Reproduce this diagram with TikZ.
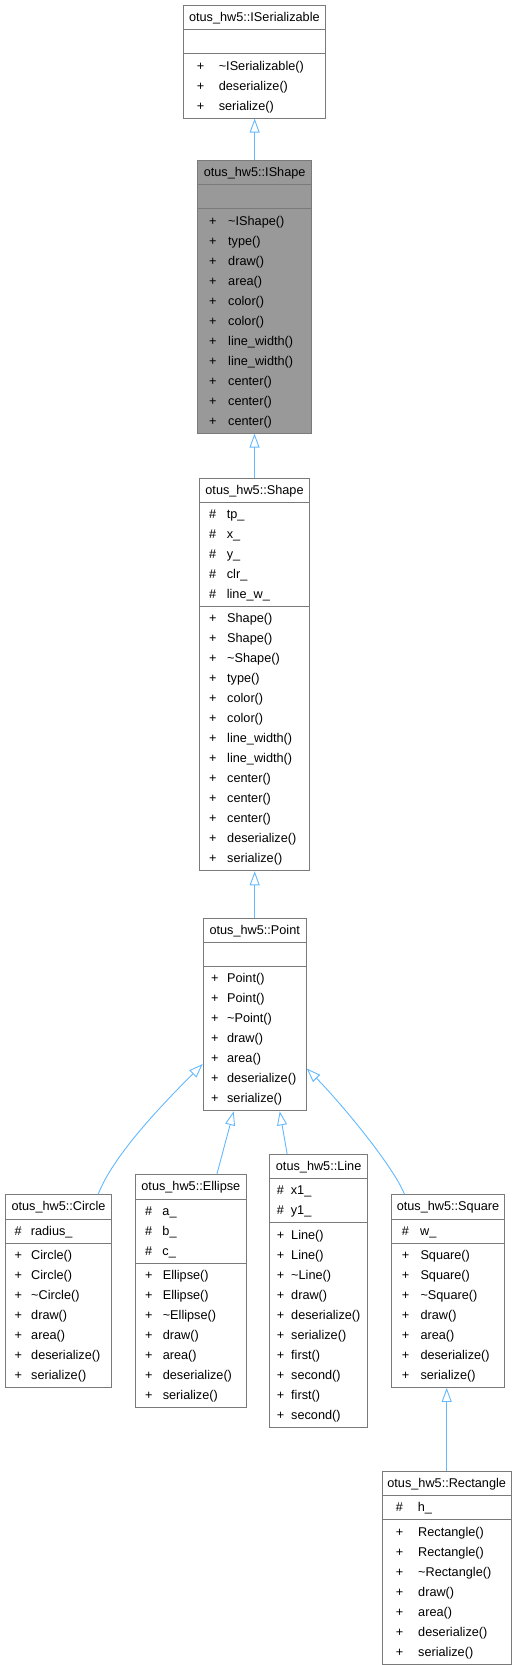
\documentclass[tikz,border=0pt]{standalone}
\usepackage{fontspec}
\setmainfont{Liberation Sans}
\usetikzlibrary{shapes.multipart,arrows.meta}
\definecolor{boxDraw}{HTML}{7A7A7A}
\definecolor{focusFill}{HTML}{999999}
\definecolor{edgeCol}{HTML}{63B8FF}
\newlength\cgap
\newlength\cind
\newcommand{\mrows}[1]{\begin{tabular}{@{\hspace{\cind}}c@{\hspace{\cgap}}l@{}}#1\end{tabular}}
\newcommand{\tl}{\textasciitilde}

\begin{document}
\begin{tikzpicture}[
  x=1pt, y=-1pt,
  font=\fontsize{12.7}{20}\selectfont,
  clsbox/.style 2 args={rectangle split, rectangle split parts=3,
               rectangle split part align={center,left,left},
               draw=boxDraw, line width=1pt, fill=white, anchor=north west,
               inner xsep=4pt, inner ysep=1.6pt,
               /utils/exec={\setlength\cind{#1}\addtolength\cind{-4pt}\setlength\cgap{#2}}},
  focusbox/.style 2 args={clsbox={#1}{#2}, fill=focusFill},
  inherit/.style={draw=edgeCol, line width=0.9pt,
               -{Triangle[open, length=14pt, width=10pt]}},
]
\useasboundingbox (0,0) rectangle (518,1665);

% ---- Interfaces ----
\node[clsbox={13.6pt}{14.6pt}, minimum width=142.3pt] (iser) at (182.7,5)
  {otus\_hw5::ISerializable\strut
   \nodepart{two}\strut
   \nodepart{three}\mrows{+ & \tl ISerializable()\\ + & deserialize()\\ + & serialize()}};

\node[focusbox={11.3pt}{11.7pt}, minimum width=113.7pt] (ishape) at (197.3,160)
  {otus\_hw5::IShape\strut
   \nodepart{two}\strut
   \nodepart{three}\mrows{+ & \tl IShape()\\ + & type()\\ + & draw()\\ + & area()\\
     + & color()\\ + & color()\\ + & line\_width()\\ + & line\_width()\\
     + & center()\\ + & center()\\ + & center()}};

% ---- Base classes ----
\node[clsbox={9.6pt}{10.7pt}, minimum width=110pt] (shape) at (199,477.7)
  {otus\_hw5::Shape\strut
   \nodepart{two}\mrows{\# & tp\_\\ \# & x\_\\ \# & y\_\\ \# & clr\_\\ \# & line\_w\_}
   \nodepart{three}\mrows{+ & Shape()\\ + & Shape()\\ + & \tl Shape()\\ + & type()\\
     + & color()\\ + & color()\\ + & line\_width()\\ + & line\_width()\\
     + & center()\\ + & center()\\ + & center()\\ + & deserialize()\\ + & serialize()}};

\node[clsbox={7.9pt}{8.6pt}, minimum width=103pt] (point) at (202.7,917.7)
  {otus\_hw5::Point\strut
   \nodepart{two}\strut
   \nodepart{three}\mrows{+ & Point()\\ + & Point()\\ + & \tl Point()\\ + & draw()\\
     + & area()\\ + & deserialize()\\ + & serialize()}};

% ---- Concrete shapes ----
\node[clsbox={9pt}{9.3pt}, minimum width=106pt] (circ) at (5,1194.3)
  {otus\_hw5::Circle\strut
   \nodepart{two}\mrows{\# & radius\_}
   \nodepart{three}\mrows{+ & Circle()\\ + & Circle()\\ + & \tl Circle()\\ + & draw()\\
     + & area()\\ + & deserialize()\\ + & serialize()}};

\node[clsbox={9.6pt}{10.3pt}, minimum width=110.7pt] (ell) at (135,1174.3)
  {otus\_hw5::Ellipse\strut
   \nodepart{two}\mrows{\# & a\_\\ \# & b\_\\ \# & c\_}
   \nodepart{three}\mrows{+ & Ellipse()\\ + & Ellipse()\\ + & \tl Ellipse()\\ + & draw()\\
     + & area()\\ + & deserialize()\\ + & serialize()}};

\node[clsbox={7.3pt}{7pt}, minimum width=98.3pt] (lin) at (269,1154)
  {otus\_hw5::Line\strut
   \nodepart{two}\mrows{\# & x1\_\\ \# & y1\_}
   \nodepart{three}\mrows{+ & Line()\\ + & Line()\\ + & \tl Line()\\ + & draw()\\
     + & deserialize()\\ + & serialize()\\ + & first()\\ + & second()\\
     + & first()\\ + & second()}};

\node[clsbox={10.6pt}{11.3pt}, minimum width=113.6pt] (sq) at (390.7,1194.3)
  {otus\_hw5::Square\strut
   \nodepart{two}\mrows{\# & w\_}
   \nodepart{three}\mrows{+ & Square()\\ + & Square()\\ + & \tl Square()\\ + & draw()\\
     + & area()\\ + & deserialize()\\ + & serialize()}};

\node[clsbox={13.6pt}{15pt}, minimum width=129pt] (rect) at (381.7,1471)
  {otus\_hw5::Rectangle\strut
   \nodepart{two}\mrows{\# & h\_}
   \nodepart{three}\mrows{+ & Rectangle()\\ + & Rectangle()\\ + & \tl Rectangle()\\ + & draw()\\
     + & area()\\ + & deserialize()\\ + & serialize()}};

% ---- Inheritance ----
\draw[inherit] (ishape.north) -- (ishape.north |- iser.south);
\draw[inherit] (shape.north) -- (shape.north |- ishape.south);
\draw[inherit] (point.north) -- (point.north |- shape.south);
\draw[inherit] ([shift={(39.7,0)}]circ.north) .. controls +(15,-40) and +(-35,35) .. ([shift={(0,49.5)}]point.west);
\draw[inherit] ([shift={(26,0)}]ell.north) -- ([shift={(-21,0)}]point.south);
\draw[inherit] ([shift={(-31.5,0)}]lin.north) -- ([shift={(25,0)}]point.south);
\draw[inherit] ([shift={(-43.5,0)}]sq.north) .. controls +(-12,-30) and +(30,30) .. ([shift={(0,54)}]point.east);
\draw[inherit] (rect.north) -- (rect.north |- sq.south);

\end{tikzpicture}
\end{document}
